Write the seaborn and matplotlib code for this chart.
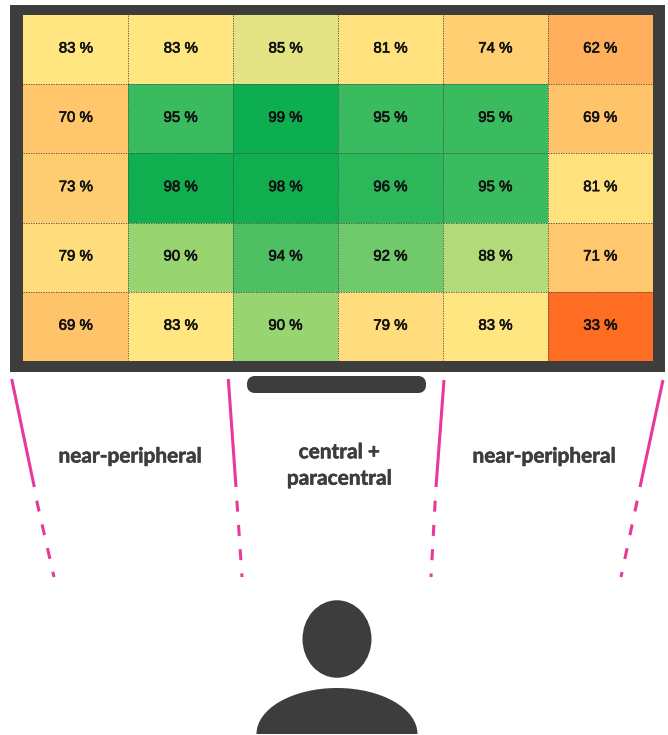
import numpy as np
import pandas as pd
import matplotlib.pyplot as plt
import matplotlib.patheffects as pe
import seaborn as sns
from matplotlib.colors import LinearSegmentedColormap
from matplotlib.patches import Ellipse, FancyBboxPatch, Rectangle

rows = ['r1', 'r2', 'r3', 'r4', 'r5']
cols = ['c1', 'c2', 'c3', 'c4', 'c5', 'c6']
row_1 = [83, 83, 85, 81, 74, 62]
row_2 = [70, 95, 99, 95, 95, 69]
row_3 = [73, 98, 98, 96, 95, 81]
row_4 = [79, 90, 94, 92, 88, 71]
row_5 = [69, 83, 90, 79, 83, 33]

zone_left = 'near-peripheral'
zone_middle = 'central +\nparacentral'
zone_right = 'near-peripheral'

DARK = '#3d3d3d'
PINK = '#e8389a'
W, H = 668, 735

df = pd.DataFrame([row_1, row_2, row_3, row_4, row_5], index=rows, columns=cols)

# colours, per percentage
stops = [(33, '#ff6d22'), (62, '#ffae5c'), (70, '#ffc66c'), (74, '#ffcf72'),
         (79, '#ffdc7c'), (83, '#ffe680'), (85, '#e3e384'), (88, '#b5da78'),
         (90, '#9cd672'), (92, '#70c96a'), (94, '#50bf63'), (95, '#3dbc60'),
         (98, '#12ae50'), (99, '#0cae50')]
cmap = LinearSegmentedColormap.from_list(
    'seats', [((v - 33) / (99 - 33), c) for v, c in stops])

sns.set_theme(style='white')
plt.rcParams['font.family'] = ['Lato', 'DejaVu Sans']

fig = plt.figure(figsize=(W / 100, H / 100), dpi=100)

# overlay in pixel coords, y going down like the reference
bg = fig.add_axes([0, 0, 1, 1])
bg.set_xlim(0, W)
bg.set_ylim(H, 0)
bg.axis('off')

bg.add_patch(Rectangle((10, 4.7), 655, 367, color=DARK, lw=0))
bg.add_patch(FancyBboxPatch((251, 380), 171, 9, boxstyle='round,pad=0,rounding_size=4',
                            mutation_aspect=1, fc=DARK, ec=DARK, lw=8 * 0.72))

# sight lines: solid part, then dashes
sight_lines = [((11.7, 379), (34.3, 487), (36.7, 500.7), (54, 577)),
               ((228.3, 379), (236, 487), (236.9, 500.7), (242, 577)),
               ((444, 380), (436, 487), (435.2, 500.7), (431, 577)),
               ((663, 380), (640, 487), (637.2, 500.7), (621, 577))]
for a, b, c, d in sight_lines:
    bg.plot([a[0], b[0]], [a[1], b[1]], color=PINK, lw=2.2, solid_capstyle='butt')
    bg.plot([c[0], d[0]], [c[1], d[1]], color=PINK, lw=2.2,
            linestyle=(0, (3.6, 4.35)), dash_capstyle='butt')

# a thin stroke thickens Lato bold towards the heavier look of the labels
label_kw = dict(color=DARK, fontsize=15, fontweight='bold', ha='center', va='center',
                path_effects=[pe.withStroke(linewidth=0.4, foreground=DARK)])
bg.text(130.5, 456.5, zone_left, **label_kw)
bg.text(339.5, 465.5, zone_middle, linespacing=1.4, **label_kw)
bg.text(544.5, 456.5, zone_right, **label_kw)

# person
bg.add_patch(Ellipse((337, 639), 69, 77.5, color=DARK, lw=0))
bg.add_patch(Ellipse((337, 734), 161, 92, color=DARK, lw=0))
bg.add_patch(Rectangle((250, 734), 175, 5, color='white', lw=0, zorder=3))

# the heatmap itself
x0, x1, y0, y1 = 23.3, 652.7, 14.7, 361.2
ax = fig.add_axes([x0 / W, 1 - y1 / H, (x1 - x0) / W, (y1 - y0) / H])
labels = df.map(lambda v: '{} %'.format(v))
sns.heatmap(df, ax=ax, cmap=cmap, vmin=33, vmax=99, cbar=False, annot=labels, fmt='',
            annot_kws=dict(color='#111111', fontsize=10.8, fontfamily='Liberation Sans',
                           path_effects=[pe.withStroke(linewidth=0.45, foreground='#111111')]),
            xticklabels=False, yticklabels=False)
for t in ax.texts:
    t.set_y(t.get_position()[1] - 0.012)
ax.vlines(range(1, len(cols)), 0, len(rows), color='#444444', lw=0.6, linestyle=(0, (1.5, 1.5)))
ax.hlines(range(1, len(rows)), 0, len(cols), color='#444444', lw=0.6, linestyle=(0, (1.5, 1.5)))
ax.tick_params(length=0)

fig.savefig('out.png', dpi=100)
